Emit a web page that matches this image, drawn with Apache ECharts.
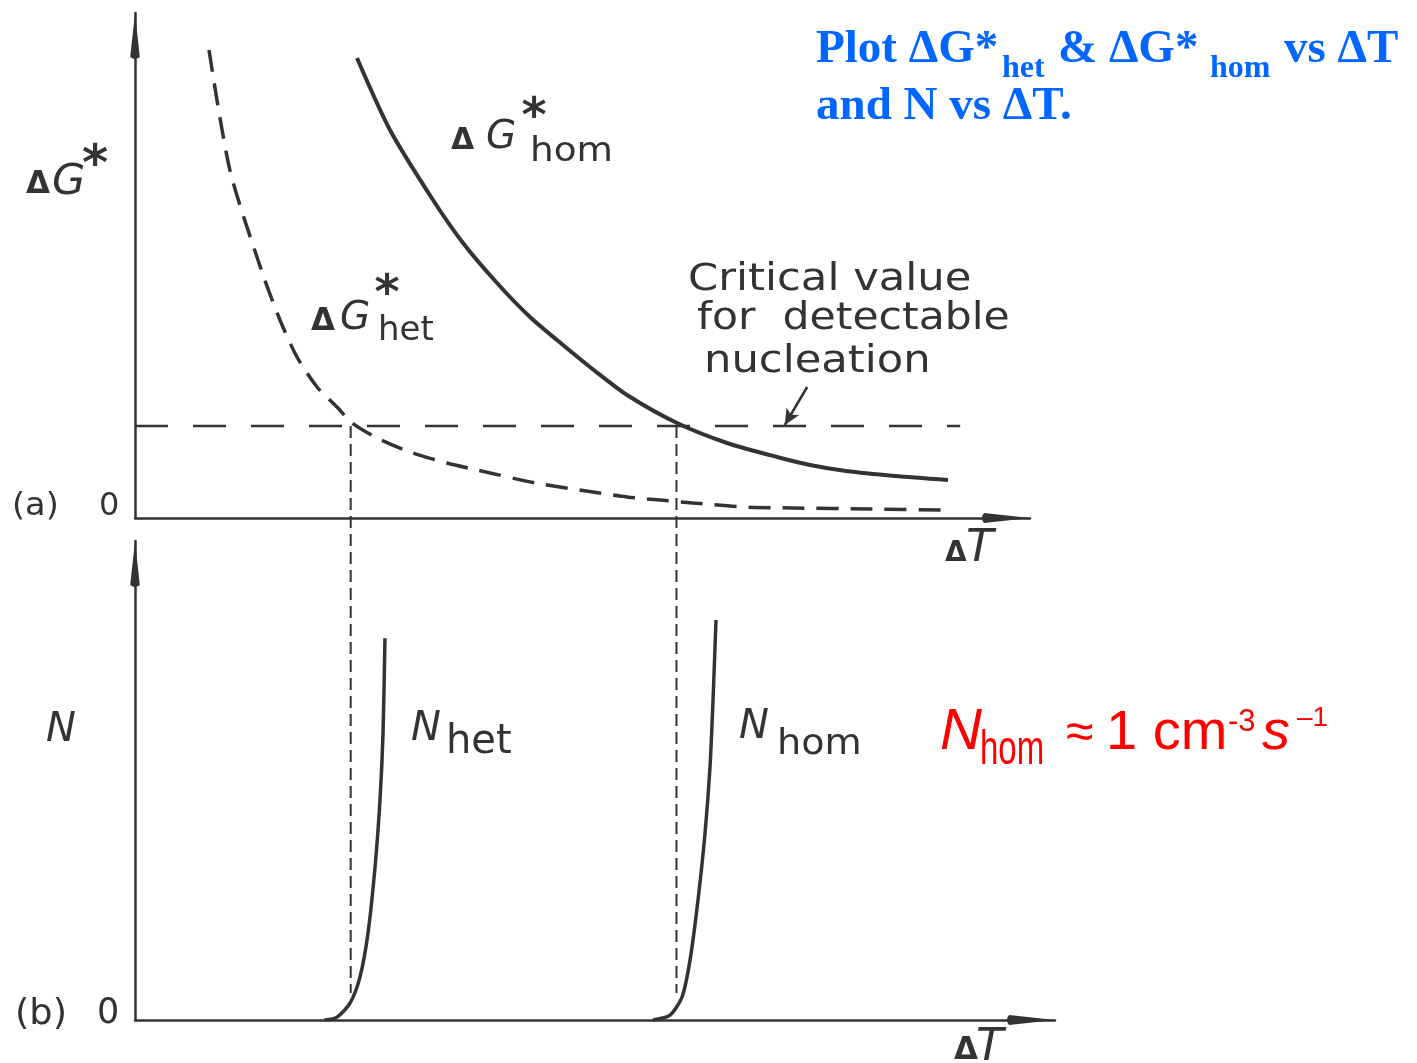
<!DOCTYPE html>
<html>
<head>
<meta charset="utf-8">
<script src="https://cdn.jsdelivr.net/npm/echarts@6/dist/echarts.min.js"></script>
<style>
html,body{margin:0;padding:0;background:#fff;}
#chart{width:1417px;height:1063px;}
</style>
</head>
<body>
<div id="chart"></div>
<script>
// ---- data (arbitrary schematic units) ----
// (a) activation barrier vs undercooling
const hetDT = [8.27, 10.6, 14.19, 16.2, 18.1, 20.34, 22.57, 24.25, 27.04, 30.73, 34.86, 38.21, 44.8, 51.17, 54.97, 58.66, 62.35, 67.93, 73.52, 82.1, 90.5];
const hetG  = [93.6, 69.6, 49.2, 39.6, 32.2, 26.2, 22.2, 19.0, 16.0, 13.2, 11.0, 9.6, 7.0, 5.2, 4.2, 3.6, 3.0, 2.2, 2.0, 1.8, 1.6];
const homDT = [24.8, 28.49, 33.3, 36.65, 40.45, 44.13, 47.82, 51.4, 54.97, 60.56, 66.15, 71.73, 75.42, 79.44, 84.92, 90.84];
const homG  = [92.0, 77.6, 63.6, 55.0, 47.0, 40.2, 34.6, 29.4, 24.6, 19.0, 15.0, 12.2, 10.6, 9.4, 8.4, 7.6];
const critG = 18.4;               // critical value for detectable nucleation
const critDT = [0, 92.2];
const onsetDT = [24.1, 60.5];     // undercoolings where het / hom reach the critical value
const dropTo = -95;               // lower end of the vertical guide lines (shared scale)
const pointerFrom = [75.1, 26.2];
const pointerTo = [72.6, 18.6];
// (b) nucleation rate vs undercooling
const nHetDT = [20.6, 21.96, 23.37, 24.46, 25.33, 26.09, 26.63, 26.96, 27.17];
const nHetN  = [0, 0.6, 3.5, 9.0, 18.2, 31.9, 45.9, 59.9, 79.7];
const nHomDT = [56.3, 58.15, 59.46, 60.33, 61.2, 61.96, 62.5, 62.83, 63.15];
const nHomN  = [0, 1.0, 4.8, 12.5, 25.1, 39.0, 52.8, 66.8, 83.5];

const zip = (xs, ys) => xs.map((x, i) => [x, ys[i]]);
const INK = '#333';
const ARROW = 'path://M5,0 L10,46 Q5,50 0,46 Z';

function axisLineStyle(w, h) {
  return { show: true, onZero: false, symbol: ['none', ARROW], symbolSize: [w, h], symbolOffset: [0, -h / 2],
           lineStyle: { color: INK, width: 2.5 } };
}
function plainAxis(extra) {
  return Object.assign({ type: 'value', axisTick: { show: false }, axisLabel: { show: false }, splitLine: { show: false } }, extra);
}

// text helper: x = left, base = alphabetic baseline
function T(str, x, base, size, o) {
  o = o || {};
  const fam = o.fam || '"DejaVu Sans"';
  const k = o.k != null ? o.k : 0.3;
  return { type: 'text', x: x, y: base, scaleX: o.sx || 1, scaleY: o.sy || 1, silent: true, z: 100,
    style: { text: str, x: 0, y: -k * size,
      font: (o.it ? 'italic ' : '') + (o.b ? 'bold ' : '') + size + 'px ' + fam,
      fill: o.c || INK, align: 'left', verticalAlign: 'middle' } };
}
function STAR(cx, cy, size) {
  return { type: 'text', x: cx, y: cy, silent: true, z: 100,
    style: { text: '*', x: 0, y: 0.24 * size, font: 'bold ' + size + 'px "DejaVu Sans"', fill: INK, align: 'center', verticalAlign: 'middle' } };
}

const SERIF = '"Liberation Serif"';
const BLUE = '#0066ff';
const RED = '#ff0000';
const ARIAL = '"Liberation Sans"';

const graphics = [
  // y label  ΔG*
  T('Δ', 26, 194, 31, { b: true }), T('G', 52, 196, 43, { it: true }), STAR(95, 155, 50),
  // ΔG*hom
  T('Δ', 451, 150, 30, { b: true }), T('G', 486, 150, 39, { it: true }), STAR(534, 107, 48), T('hom', 530, 162, 34, { sx: 1.1 }),
  // ΔG*het
  T('Δ', 311, 331, 31, { b: true }), T('G', 340, 331, 39, { it: true }), STAR(387, 284, 48), T('het', 378, 341, 34),
  // critical value note
  T('Critical value', 688, 291, 37, { sx: 1.17 }),
  T('for  detectable', 697, 330, 37, { sx: 1.15 }),
  T('nucleation', 704, 373, 37, { sx: 1.17 }),
  // panel (a) markers
  T('(a)', 12, 516, 32, { sx: 1.05 }), T('0', 99, 516, 32),
  T('Δ', 945, 562, 28, { b: true }), T('T', 966, 563, 45, { it: true }),
  // panel (b)
  T('(b)', 15, 1025, 35, { sx: 1.05 }), T('0', 97, 1024, 35),
  T('Δ', 954, 1060, 31, { b: true }), T('T', 976, 1062, 45, { it: true }),
  T('N', 46, 743, 40, { it: true }),
  T('N', 411, 742, 40, { it: true }), T('het', 446, 755, 40),
  T('N', 739, 740, 40, { it: true }), T('hom', 777, 755, 36, { sx: 1.06 }),
  // red formula
  T('N', 940, 751, 58, { it: true, fam: ARIAL, c: RED, k: 0.31 }),
  T('hom', 980, 766, 33, { fam: ARIAL, c: RED, k: 0.31, sy: 1.45 }),
  T('≈', 1066, 750, 50, { fam: ARIAL, c: RED, k: 0.31 }),
  T('1 cm', 1106, 751, 56, { fam: ARIAL, c: RED, k: 0.31 }),
  T('-3', 1228, 732, 31, { fam: ARIAL, c: RED, k: 0.31 }),
  T('s', 1262, 751, 56, { it: true, fam: ARIAL, c: RED, k: 0.31 }),
  T('–1', 1297, 727, 28, { fam: ARIAL, c: RED, k: 0.31 }),
  // blue title
  T('Plot ΔG*', 816, 64, 47, { b: true, fam: SERIF, c: BLUE, k: 0.305 }),
  T('het', 1002, 78, 32, { b: true, fam: SERIF, c: BLUE, k: 0.305 }),
  T('& ΔG*', 1058, 64, 47, { b: true, fam: SERIF, c: BLUE, k: 0.305 }),
  T('hom', 1210, 78, 32, { b: true, fam: SERIF, c: BLUE, k: 0.305 }),
  T('vs ΔT', 1284, 64, 47, { b: true, fam: SERIF, c: BLUE, k: 0.305 }),
  T('and N vs ΔT.', 816, 121, 47, { b: true, fam: SERIF, c: BLUE, k: 0.305 })
];

const lineBase = { type: 'line', showSymbol: false, silent: true, animation: false, smooth: 0.25, z: 5 };

const option = {
  animation: false,
  backgroundColor: '#ffffff',
  grid: [
    { left: 135, top: 13, width: 895, height: 505 },
    { left: 135, top: 541, width: 920, height: 479 },
    { left: 135, top: 13, width: 895, height: 1007 }
  ],
  xAxis: [
    plainAxis({ gridIndex: 0, min: 0, max: 100, axisLine: axisLineStyle(16, 48) }),
    plainAxis({ gridIndex: 1, min: 0, max: 100, axisLine: axisLineStyle(16, 48) }),
    plainAxis({ gridIndex: 2, min: 0, max: 100, show: false })
  ],
  yAxis: [
    plainAxis({ gridIndex: 0, min: 0, max: 101, axisLine: axisLineStyle(14, 46) }),
    plainAxis({ gridIndex: 1, min: 0, max: 100, axisLine: axisLineStyle(13, 46) }),
    plainAxis({ gridIndex: 2, min: -100.4, max: 101, show: false })
  ],
  series: [
    Object.assign({}, lineBase, { name: 'ΔG*het', xAxisIndex: 0, yAxisIndex: 0, data: zip(hetDT, hetG),
      lineStyle: { color: INK, width: 3.5, type: [22, 12] } }),
    Object.assign({}, lineBase, { name: 'ΔG*hom', xAxisIndex: 0, yAxisIndex: 0, data: zip(homDT, homG),
      lineStyle: { color: INK, width: 4 } }),
    Object.assign({}, lineBase, { name: 'critical', smooth: false, xAxisIndex: 0, yAxisIndex: 0,
      data: critDT.map(x => [x, critG]),
      lineStyle: { color: INK, width: 2.5, type: [33, 25] },
      markLine: { silent: true, symbol: ['none', 'arrow'], symbolSize: [11, 16], label: { show: false },
        lineStyle: { color: INK, width: 2.5, type: 'solid' },
        data: [[{ coord: pointerFrom }, { coord: pointerTo }]] } }),
    Object.assign({}, lineBase, { name: 'Nhet', xAxisIndex: 1, yAxisIndex: 1, data: zip(nHetDT, nHetN),
      lineStyle: { color: INK, width: 3.5 } }),
    Object.assign({}, lineBase, { name: 'Nhom', xAxisIndex: 1, yAxisIndex: 1, data: zip(nHomDT, nHomN),
      lineStyle: { color: INK, width: 3.5 } })
  ].concat(onsetDT.map((x, i) => Object.assign({}, lineBase, { name: 'onset' + i, smooth: false,
      xAxisIndex: 2, yAxisIndex: 2, data: [[x, critG], [x, dropTo]],
      lineStyle: { color: INK, width: 2, type: [12, 6] } }))),
  graphic: graphics
};

const chart = echarts.init(document.getElementById('chart'), null, { renderer: 'canvas' });
chart.setOption(option);
</script>
</body>
</html>
